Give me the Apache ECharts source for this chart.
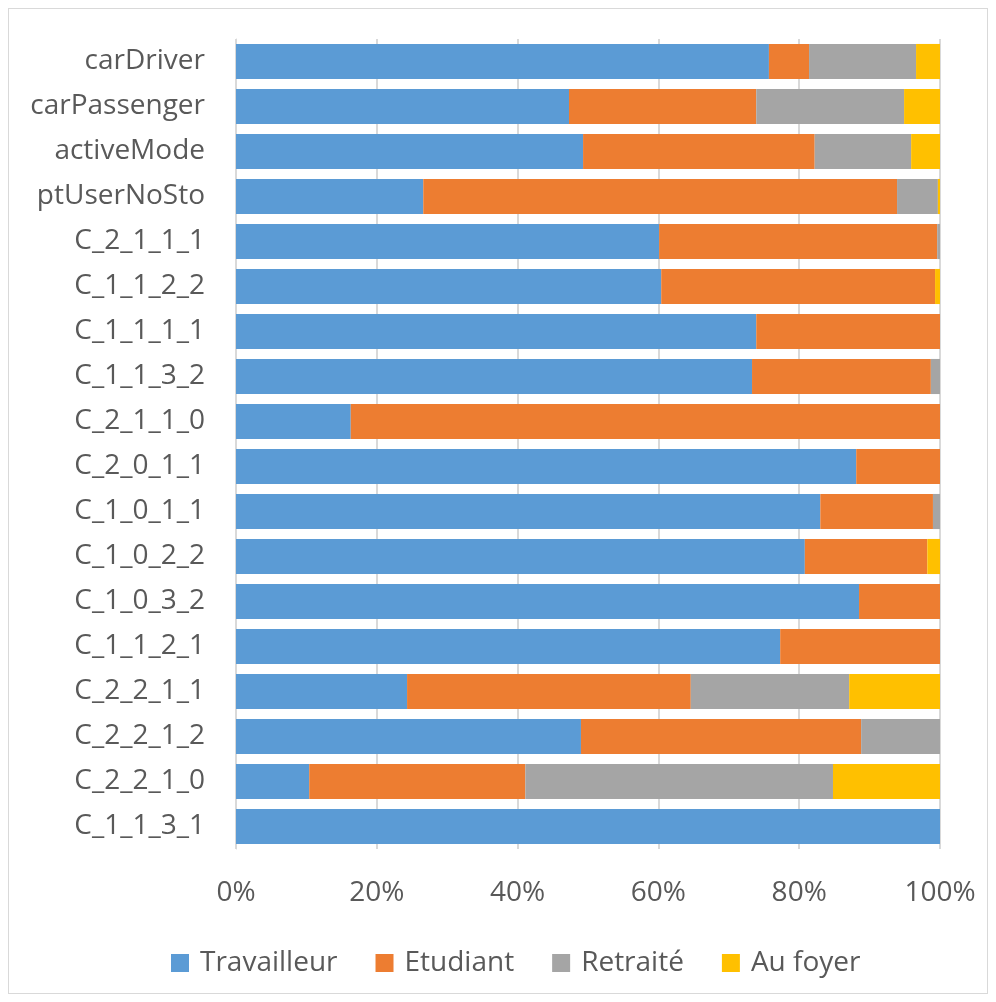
<!DOCTYPE html>
<html>
<head>
<meta charset="utf-8">
<script src="https://cdn.jsdelivr.net/npm/echarts@6/dist/echarts.min.js"></script>
<style>
  html, body { margin: 0; padding: 0; background: #fff; }
  #frame { position: absolute; left: 8px; top: 8px; width: 978px; height: 984px; border: 1px solid #d9d9d9; }
  #main { width: 996px; height: 1002px; }
</style>
</head>
<body>
<div id="frame"></div>
<div id="main"></div>
<script>
// categories, top to bottom
const categories = [
  'carDriver', 'carPassenger', 'activeMode', 'ptUserNoSto',
  'C_2_1_1_1', 'C_1_1_2_2', 'C_1_1_1_1', 'C_1_1_3_2', 'C_2_1_1_0',
  'C_2_0_1_1', 'C_1_0_1_1', 'C_1_0_2_2', 'C_1_0_3_2', 'C_1_1_2_1',
  'C_2_2_1_1', 'C_2_2_1_2', 'C_2_2_1_0', 'C_1_1_3_1'
]
// share (%) of each status per category
const travailleur = [75.7, 47.3, 49.3, 26.6, 60.1, 60.4, 73.9, 73.3, 16.3, 88.1, 83.0, 80.8, 88.5, 77.3, 24.3, 49.0, 10.4, 100]
const etudiant    = [5.7, 26.6, 32.9, 67.3, 39.5, 38.9, 26.1, 25.4, 83.7, 11.9, 16.0, 17.4, 11.5, 22.7, 40.3, 39.8, 30.7, 0]
const retraite    = [15.2, 21.0, 13.7, 5.8, 0.4, 0, 0, 1.3, 0, 0, 1.0, 0, 0, 0, 22.5, 11.2, 43.7, 0]
const auFoyer     = [3.4, 5.1, 4.1, 0.3, 0, 0.7, 0, 0, 0, 0, 0, 1.8, 0, 0, 12.9, 0, 15.2, 0]
const xTicks = [0, 20, 40, 60, 80, 100]

const font = '"Open Sans", Lato, sans-serif'
const seriesDefs = [
  { name: 'Travailleur', data: travailleur, color: '#5b9bd5' },
  { name: 'Etudiant', data: etudiant, color: '#ed7d31' },
  { name: 'Retraité', data: retraite, color: '#a5a5a5' },
  { name: 'Au foyer', data: auFoyer, color: '#ffc000' }
]

const chart = echarts.init(document.getElementById('main'))
chart.setOption({
  animation: false,
  grid: { left: 236, right: 56, top: 39, bottom: 153, containLabel: false },
  legend: {
    top: 944,
    left: 166,
    itemWidth: 18,
    itemHeight: 18,
    itemGap: 38,
    icon: 'rect',
    textStyle: { fontFamily: font, fontSize: 28, color: '#595959', padding: [0, 0, 0, 6] },
    data: seriesDefs.map(s => s.name)
  },
  xAxis: {
    type: 'value',
    min: xTicks[0],
    max: xTicks[xTicks.length - 1],
    interval: 20,
    axisLine: { show: false },
    axisTick: { show: false },
    splitLine: { show: true, lineStyle: { color: '#d9d9d9', width: 2 } },
    axisLabel: {
      margin: 30,
      fontFamily: font, fontSize: 28, color: '#595959',
      formatter: '{value}%'
    }
  },
  yAxis: {
    type: 'category',
    inverse: true,
    data: categories,
    axisLine: { show: true, lineStyle: { color: '#d9d9d9', width: 1 } },
    axisTick: { show: false },
    axisLabel: { margin: 31, fontFamily: font, fontSize: 28, color: '#595959' }
  },
  series: seriesDefs.map(s => ({
    name: s.name,
    type: 'bar',
    stack: 'total',
    barCategoryGap: '22%',
    data: s.data,
    itemStyle: { color: s.color }
  }))
})
</script>
</body>
</html>
